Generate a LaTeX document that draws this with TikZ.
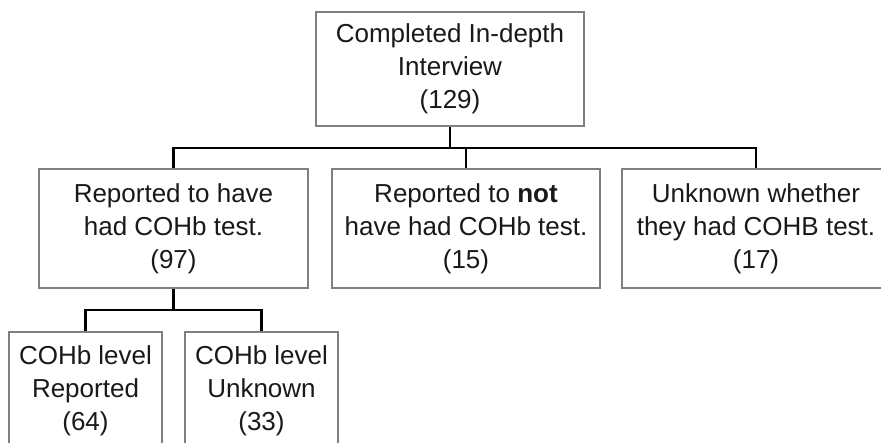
\documentclass[tikz,border=0pt]{standalone}
\usepackage{fontspec}
\setmainfont{Liberation Sans}
\begin{document}
\begin{tikzpicture}[x=1pt,y=-1pt,
  box/.style={draw=black!50, line width=2pt, align=center, inner sep=0pt,
    font=\fontsize{26}{33}\selectfont, text=black!90},
  conn/.style={draw=black, line width=2.2pt}]
\useasboundingbox (0,0) rectangle (881,443);
\clip (0,0) rectangle (881,443);
\node[box, minimum width=268, minimum height=114] (top) at (450,69) {Completed In-depth\\Interview\\(129)};
\node[box, minimum width=269, minimum height=119] (b1) at (173.5,228.5) {Reported to have\\had COHb test.\\(97)};
\node[box, minimum width=268, minimum height=119] (b2) at (466,228.5) {Reported to \textbf{not}\\have had COHb test.\\(15)};
\node[box, minimum width=268, minimum height=119] (b3) at (756,228.5) {Unknown whether\\they had COHB test.\\(17)};
\node[box, minimum width=153, minimum height=118] (c1) at (85.5,391) {COHb level\\Reported\\(64)};
\node[box, minimum width=153, minimum height=118] (c2) at (261.5,391) {COHb level\\Unknown\\(33)};
\coordinate (j1) at (450,148);
\coordinate (j2) at (173.5,310);
\draw[conn] (top.south) -- (j1);
\draw[conn] (b1.north) |- (j1) -| (b3.north);
\draw[conn] (b2.north) -- (b2.north |- j1);
\draw[conn] (b1.south) -- (j2);
\draw[conn] (c1.north) |- (j2) -| (c2.north);
\end{tikzpicture}
\end{document}
